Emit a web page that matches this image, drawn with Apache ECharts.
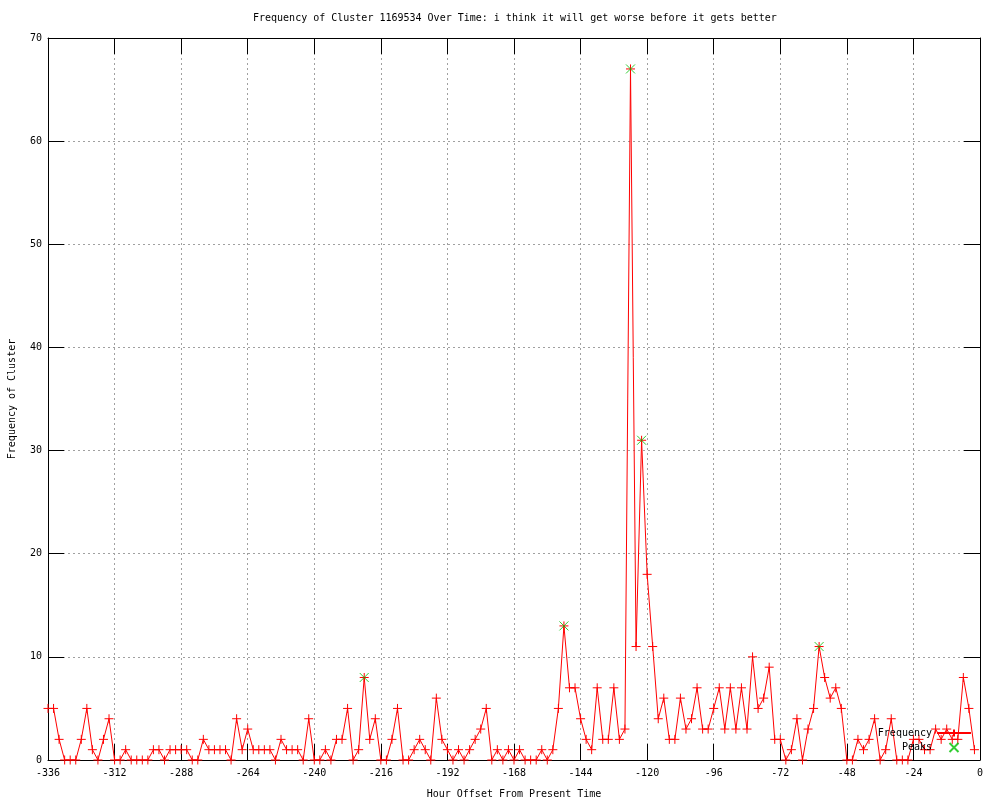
<!DOCTYPE html>
<html>
<head>
<meta charset="utf-8">
<script src="https://cdn.jsdelivr.net/npm/echarts@6/dist/echarts.min.js"></script>
<style>html,body{margin:0;padding:0;background:#fff}#c{width:1000px;height:800px}</style>
</head>
<body>
<div id="c"></div>
<script>
// Hour offsets (x) and frequency values (y)
var hours = [-336,-334,-332,-330,-328,-326,-324,-322,-320,-318,-316,-314,-312,-310,-308,-306,-304,-302,-300,-298,
  -296,-294,-292,-290,-288,-286,-284,-282,-280,-278,-276,-274,-272,-270,-268,-266,-264,-262,-260,-258,
  -256,-254,-252,-250,-248,-246,-244,-242,-240,-238,-236,-234,-232,-230,-228,-226,-224,-222,-220,-218,
  -216,-214,-212,-210,-208,-206,-204,-202,-200,-198,-196,-194,-192,-190,-188,-186,-184,-182,-180,-178,
  -176,-174,-172,-170,-168,-166,-164,-162,-160,-158,-156,-154,-152,-150,-148,-146,-144,-142,-140,-138,
  -136,-134,-132,-130,-128,-126,-124,-122,-120,-118,-116,-114,-112,-110,-108,-106,-104,-102,-100,-98,
  -96,-94,-92,-90,-88,-86,-84,-82,-80,-78,-76,-74,-72,-70,-68,-66,-64,-62,-60,-58,
  -56,-54,-52,-50,-48,-46,-44,-42,-40,-38,-36,-34,-32,-30,-28,-26,-24,-22,-20,-18,
  -16,-14,-12,-10,-8,-6,-4,-2];
var frequency = [5,5,2,0,0,0,2,5,1,0,2,4,0,0,1,0,0,0,0,1,
  1,0,1,1,1,1,0,0,2,1,1,1,1,0,4,1,3,1,1,1,
  1,0,2,1,1,1,0,4,0,0,1,0,2,2,5,0,1,8,2,4,
  0,0,2,5,0,0,1,2,1,0,6,2,1,0,1,0,1,2,3,5,
  0,1,0,1,0,1,0,0,0,1,0,1,5,13,7,7,4,2,1,7,
  2,2,7,2,3,67,11,31,18,11,4,6,2,2,6,3,4,7,3,3,
  5,7,3,7,3,7,3,10,5,6,9,2,2,0,1,4,0,3,5,11,
  8,6,7,5,0,0,2,1,2,4,0,1,4,0,0,0,2,2,1,1,
  3,2,3,2,2,8,5,1];
var peakHours = [-222,-150,-126,-122,-58];
var peakValues = [8,13,67,31,11];
var xTicks = {min:-336, max:0, interval:24};
var yTicks = {min:0, max:70, interval:10};

var freqData = hours.map(function(h,i){return [h, frequency[i]];});
var peakData = peakHours.map(function(h,i){return [h, peakValues[i]];});

var FONT = 'DejaVu Sans Mono';
var plus = 'path://M0 5 L10 5 M5 0 L5 10';
var cross = 'path://M0 0 L10 10 M10 0 L0 10';

function axLine(){ return {show:true, onZero:false, lineStyle:{color:'#000', width:1}}; }
function axTick(){ return {show:true, inside:true, length:16, lineStyle:{color:'#000', width:1}}; }
var gridLine = {show:true, lineStyle:{color:'#a0a0a0', width:1, type:[2,3]}};
var labelStyle = {fontFamily:FONT, fontSize:10, color:'#000'};

var chart = echarts.init(document.getElementById('c'), null, {renderer:'canvas'});
chart.setOption({
  animation:false,
  backgroundColor:'#fff',
  title:{
    text:'Frequency of Cluster 1169534 Over Time: i think it will get worse before it gets better',
    left:253, top:13, padding:0,
    textStyle:{fontFamily:FONT, fontSize:10, fontWeight:'normal', color:'#000'}
  },
  legend:{
    orient:'vertical', right:28, top:728, align:'right', padding:0,
    itemWidth:34, itemHeight:9, itemGap:4,
    textStyle:{fontFamily:FONT, fontSize:10, color:'#000'},
    data:['Frequency','Peaks']
  },
  grid:{left:48, right:20, top:38, bottom:40, containLabel:false, outerBoundsMode:'none'},
  xAxis:[
    {
      type:'value', min:xTicks.min, max:xTicks.max, interval:xTicks.interval,
      name:'Hour Offset From Present Time', nameLocation:'middle', nameGap:29,
      nameTextStyle:labelStyle,
      axisLine:axLine(), axisTick:axTick(),
      axisLabel:{fontFamily:FONT, fontSize:10, color:'#000', margin:8},
      splitLine:gridLine
    },
    {
      type:'value', position:'top', min:xTicks.min, max:xTicks.max, interval:xTicks.interval,
      axisLine:axLine(), axisTick:axTick(),
      axisLabel:{show:false}, splitLine:{show:false}
    }
  ],
  yAxis:[
    {
      type:'value', position:'left', min:yTicks.min, max:yTicks.max, interval:yTicks.interval,
      name:'Frequency of Cluster', nameLocation:'middle', nameGap:31,
      nameTextStyle:labelStyle,
      axisLine:axLine(), axisTick:axTick(),
      axisLabel:{fontFamily:FONT, fontSize:10, color:'#000', margin:6},
      splitLine:gridLine
    },
    {
      type:'value', position:'right', min:yTicks.min, max:yTicks.max, interval:yTicks.interval,
      axisLine:axLine(), axisTick:axTick(),
      axisLabel:{show:false}, splitLine:{show:false}
    }
  ],
  series:[
    {
      name:'Frequency', type:'line', xAxisIndex:0, yAxisIndex:0,
      data:freqData, showAllSymbol:true,
      symbol:plus, symbolSize:9,
      lineStyle:{color:'#ff0000', width:1},
      itemStyle:{color:'#ff0000', borderColor:'#ff0000', borderWidth:1},
      emphasis:{disabled:true}, z:2
    },
    {
      name:'Peaks', type:'scatter', xAxisIndex:0, yAxisIndex:0,
      data:peakData,
      symbol:cross, symbolSize:9,
      itemStyle:{color:'#00c000', borderColor:'#00c000', borderWidth:1},
      emphasis:{disabled:true}, z:3
    }
  ]
});
</script>
</body>
</html>
